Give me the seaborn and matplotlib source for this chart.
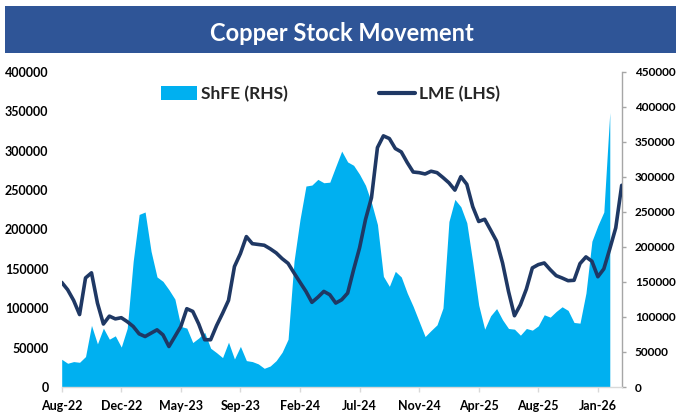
import numpy as np
import pandas as pd
import matplotlib
matplotlib.use("Agg")
import matplotlib.pyplot as plt
import seaborn as sns
from matplotlib.patches import Patch, Rectangle
from matplotlib.lines import Line2D

# ---------------- data (~1 point per 6 px) ----------------
lme = [132900, 123500, 110000, 92000, 138500, 145000, 106600, 80000, 90000, 86500,
       88000, 83000, 76900, 67500, 64100, 68400, 72600, 66200, 51400, 64100,
       76900, 99400, 96000, 80000, 60000, 60000, 78000, 93500, 110000, 153000,
       169500, 191000, 182000, 181000, 180000, 175500, 170300, 163000, 157000, 144800,
       133000, 121400, 107500, 114000, 121400, 117200, 106600, 110800, 119300, 149000,
       176700, 212800, 240400, 304000, 318900, 315500, 302800, 298500, 285000, 273000,
       272200, 270500, 274000, 272200, 266000, 259300, 250000, 267100, 257400, 228900,
       210200, 213000, 199200, 185200, 157500, 121400, 90500, 104500, 124400, 151200,
       155400, 157500, 149000, 141400, 138400, 135000, 135500, 156700, 165200, 159700,
       140000, 150000, 175400, 202100, 256100]

shfe = [39600, 33900, 36300, 35300, 43500, 88000, 61600, 84000, 68300, 73100,
        57000, 84000, 179600, 246500, 250000, 193900, 157200, 150900, 139000, 125600,
        86500, 84100, 63500, 70000, 78000, 55400, 49000, 42000, 64000, 40000,
        58000, 37700, 36300, 33000, 26700, 30000, 37700, 49700, 68300, 180000,
        239300, 287100, 288500, 296600, 291800, 292600, 315000, 337000, 321500, 316700,
        303800, 288000, 263200, 232100, 158100, 143800, 165200, 157200, 134200, 115100,
        93600, 72100, 80700, 88800, 112800, 236400, 268000, 257500, 234600, 178100,
        117000, 82600, 101700, 112000, 96000, 83600, 82600, 74000, 83600, 81200,
        87400, 103200, 99800, 107900, 114600, 109400, 92200, 91200, 134200, 208300,
        230700, 250000, 392000, np.nan, np.nan]

tick_labels = ["Aug-22", "Dec-22", "May-23", "Sep-23", "Feb-24",
               "Jul-24", "Nov-24", "Apr-25", "Aug-25", "Jan-26"]

title = "Copper Stock Movement"
shfe_label = "ShFE (RHS)"
lme_label = "LME (LHS)"

df = pd.DataFrame({"week": np.arange(len(lme)), "LME": lme, "ShFE": shfe})

# ---------------- style ----------------
sns.set_theme(style="white")
plt.rcParams["font.family"] = ["Lato", "DejaVu Sans"]
plt.rcParams["font.weight"] = "bold"

CYAN = "#00B0F0"
NAVY = "#1F3864"
BAR = "#2F5597"

W, H = 676, 420
fig = plt.figure(figsize=(W / 100, H / 100), dpi=100)
fig.patch.set_facecolor("white")

ax = fig.add_axes([61.7 / W, 1 - 387 / H, 560 / W, 315 / H])
ax2 = ax.twinx()

# ShFE area on right axis
ax2.fill_between(df["week"], df["ShFE"], 0, color=CYAN, linewidth=0)
ax2.set_ylim(0, 450000)
ax2.set_yticks(np.arange(0, 450001, 50000))

# LME line on left axis
sns.lineplot(data=df, x="week", y="LME", ax=ax, color=NAVY, linewidth=2.6,
             legend=False)
ax.set_ylim(0, 400000)
ax.set_yticks(np.arange(0, 400001, 50000))
ax.set_xlim(0, len(lme) - 1)
ax.set_xticks(np.arange(0, 10 * len(tick_labels), 10))
ax.set_xticklabels(tick_labels)
ax.set_xlabel("")
ax.set_ylabel("")
ax2.set_ylabel("")

ax.set_zorder(ax2.get_zorder() + 1)
ax.patch.set_visible(False)

for s in ["left", "top", "right"]:
    ax.spines[s].set_visible(False)
ax.spines["bottom"].set_color("#D9D9D9")
ax.spines["bottom"].set_linewidth(1.0)
for s in ["left", "top", "bottom"]:
    ax2.spines[s].set_visible(False)
ax2.spines["right"].set_color("#A6A6A6")
ax2.spines["right"].set_linewidth(1.0)

ax.tick_params(axis="x", direction="out", length=3.6, width=1, color="#D9D9D9",
               labelsize=9, pad=6, labelcolor="black", bottom=True)
ax.tick_params(axis="y", length=0, labelsize=9, pad=9.5, labelcolor="black")
ax2.tick_params(axis="y", direction="out", length=2.9, width=1, color="#A6A6A6",
                labelsize=8.5, pad=6.5, labelcolor="black", right=True)
ax.grid(False)
ax2.grid(False)

# title bar
fig.patches.append(Rectangle((5 / W, 1 - 52.7 / H), 671 / W, 46.7 / H,
                             transform=fig.transFigure, facecolor=BAR,
                             edgecolor="none", zorder=0))
fig.text(342 / W, 1 - 40.7 / H, title, color="white", fontsize=17,
         fontweight="bold", ha="center", va="baseline")

# legend
handles = [Patch(facecolor=CYAN, edgecolor="none", label=shfe_label),
           Line2D([0], [0], color=NAVY, linewidth=3, label=lme_label)]
fig.legend(handles=handles, loc="center", bbox_to_anchor=(330.5 / W, 1 - 94 / H),
           ncol=2, frameon=False, prop={"size": 12.5, "weight": "bold"},
           handlelength=2.1, handleheight=0.8, handletextpad=0.25,
           columnspacing=5.2, borderpad=0, borderaxespad=0)

fig.savefig("out.png", dpi=100)
